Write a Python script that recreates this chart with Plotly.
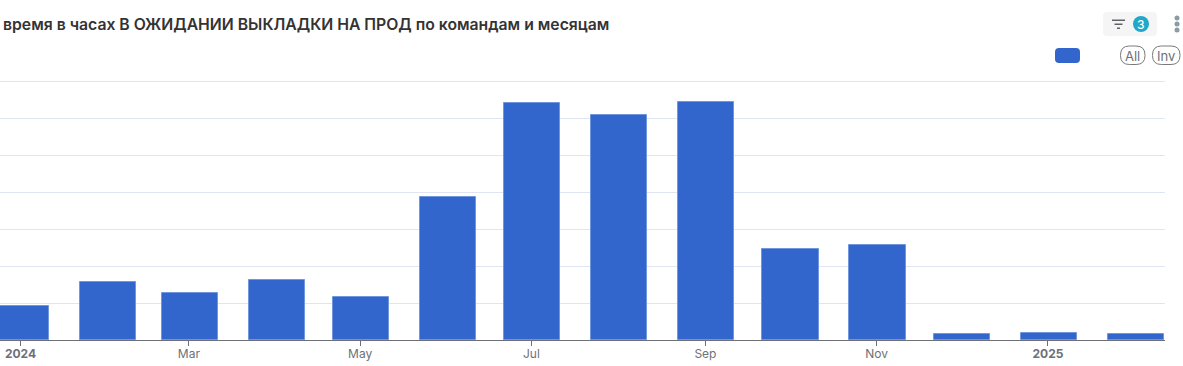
import plotly.graph_objects as go

W, H = 1183, 366
L, R, T, B = 0, 18, 78, 26

months = ["2024-01-01", "2024-02-01", "2024-03-01", "2024-04-01", "2024-05-01", "2024-06-01", "2024-07-01",
          "2024-08-01", "2024-09-01", "2024-10-01", "2024-11-01", "2024-12-01", "2025-01-01", "2025-02-01"]
values = [0.93, 1.58, 1.28, 1.62, 1.17, 3.87, 6.41, 6.09, 6.44, 2.47, 2.58, 0.16, 0.19, 0.15]
tick_dates = ["2024-01-01", "2024-03-01", "2024-05-01", "2024-07-01", "2024-09-01", "2024-11-01", "2025-01-01"]
tick_labels = ["<b>2024</b>", "Mar", "May", "Jul", "Sep", "Nov", "<b>2025</b>"]
title = "время в часах В ОЖИДАНИИ ВЫКЛАДКИ НА ПРОД по командам и месяцам"
BAR_DAYS = 20
DAY_MS = 86400000


def px(x):
    return (x - L) / (W - L - R)


def py(y):
    return (H - B - y) / (H - T - B)


def rrect(x0, y0, x1, y1, r):
    return (f"M{px(x0 + r)},{py(y0)} L{px(x1 - r)},{py(y0)} Q{px(x1)},{py(y0)} {px(x1)},{py(y0 + r)} "
            f"L{px(x1)},{py(y1 - r)} Q{px(x1)},{py(y1)} {px(x1 - r)},{py(y1)} "
            f"L{px(x0 + r)},{py(y1)} Q{px(x0)},{py(y1)} {px(x0)},{py(y1 - r)} "
            f"L{px(x0)},{py(y0 + r)} Q{px(x0)},{py(y0)} {px(x0 + r)},{py(y0)} Z")


def box(x0, y0, x1, y1, **kw):
    return dict(type="rect", xref="paper", yref="paper", x0=px(x0), x1=px(x1), y0=py(y1), y1=py(y0), layer="above", **kw)


def path(d, **kw):
    return dict(type="path", xref="paper", yref="paper", path=d, layer="above", **kw)


def label(x, y, text, size, color, weight=400, anchor="center"):
    return dict(xref="paper", yref="paper", x=px(x), y=py(y), text=text, showarrow=False, xanchor=anchor,
                yanchor="middle", font=dict(family="Inter", size=size, color=color, weight=weight), borderpad=0, borderwidth=0)


shapes = [
    path(rrect(1103, 12, 1157, 36, 4), fillcolor="#F5F5F5", line=dict(width=0)),
    box(1112, 19.5, 1125, 21, fillcolor="#5F6368", line=dict(width=0)),
    box(1114.5, 23.5, 1122.5, 25, fillcolor="#5F6368", line=dict(width=0)),
    box(1117, 27.5, 1120, 29, fillcolor="#5F6368", line=dict(width=0)),
    dict(type="circle", xref="paper", yref="paper", x0=px(1133), x1=px(1149), y0=py(32), y1=py(16),
         fillcolor="#1FA8C9", line=dict(width=0), layer="above"),
    path(rrect(1055, 48, 1080, 63, 4), fillcolor="#3366CC", line=dict(width=0)),
    path(rrect(1120.5, 46, 1145, 64.5, 9), fillcolor="white", line=dict(color="#7A7A7A", width=1)),
    path(rrect(1152.5, 46, 1180, 64.5, 9), fillcolor="white", line=dict(color="#7A7A7A", width=1)),
]
for cy in (18, 24, 30):
    shapes.append(dict(type="circle", xref="paper", yref="paper", x0=px(1174.5), x1=px(1179.5), y0=py(cy + 2.5),
                       y1=py(cy - 2.5), fillcolor="#8D9AA3", line=dict(width=0), layer="above"))

annotations = [
    label(3, 24.5, title, 15.75, "#333333", 600, "left"),
    label(1141, 24.5, "3", 12, "white", 500),
    label(1132.75, 55.5, "All", 13, "#6E7079"),
    label(1166.25, 55.5, "Inv", 13, "#6E7079"),
]

fig = go.Figure(go.Bar(
    x=months, y=values, width=[BAR_DAYS * DAY_MS] * len(months),
    offset=[-9.7 * DAY_MS] * len(months),
    marker=dict(color="#3366CC", line=dict(color="#7096DE", width=1)),
    showlegend=False, hoverinfo="x+y",
))
fig.update_layout(
    width=W, height=H, margin=dict(l=L, r=R, t=T, b=B, pad=0),
    paper_bgcolor="white", plot_bgcolor="white", showlegend=False,
    font=dict(family="Inter", size=12, color="#6E7079"),
    shapes=shapes, annotations=annotations,
    xaxis=dict(type="date", range=["2023-12-24 17:00", "2025-02-11 17:00"], tickmode="array", tickvals=tick_dates,
               ticktext=tick_labels, ticks="outside", ticklen=5, tickcolor="#6E7079", tickwidth=1,
               ticklabelstandoff=-2,
               showgrid=False, showline=True, linecolor="#6E7079", linewidth=1, zeroline=False,
               tickfont=dict(family="Inter", size=12, color="#6E7079")),
    yaxis=dict(range=[0, 7 + 3 / 37], tickmode="linear", tick0=0, dtick=1, showticklabels=False, ticks="",
               showgrid=True, gridcolor="#E0E6F1", gridwidth=1, zeroline=False, showline=False),
    bargap=0,
)
fig.write_html("out.html", config=dict(displayModeBar=False),
               post_script="document.body.style.margin='0';document.documentElement.style.overflow='hidden';")
